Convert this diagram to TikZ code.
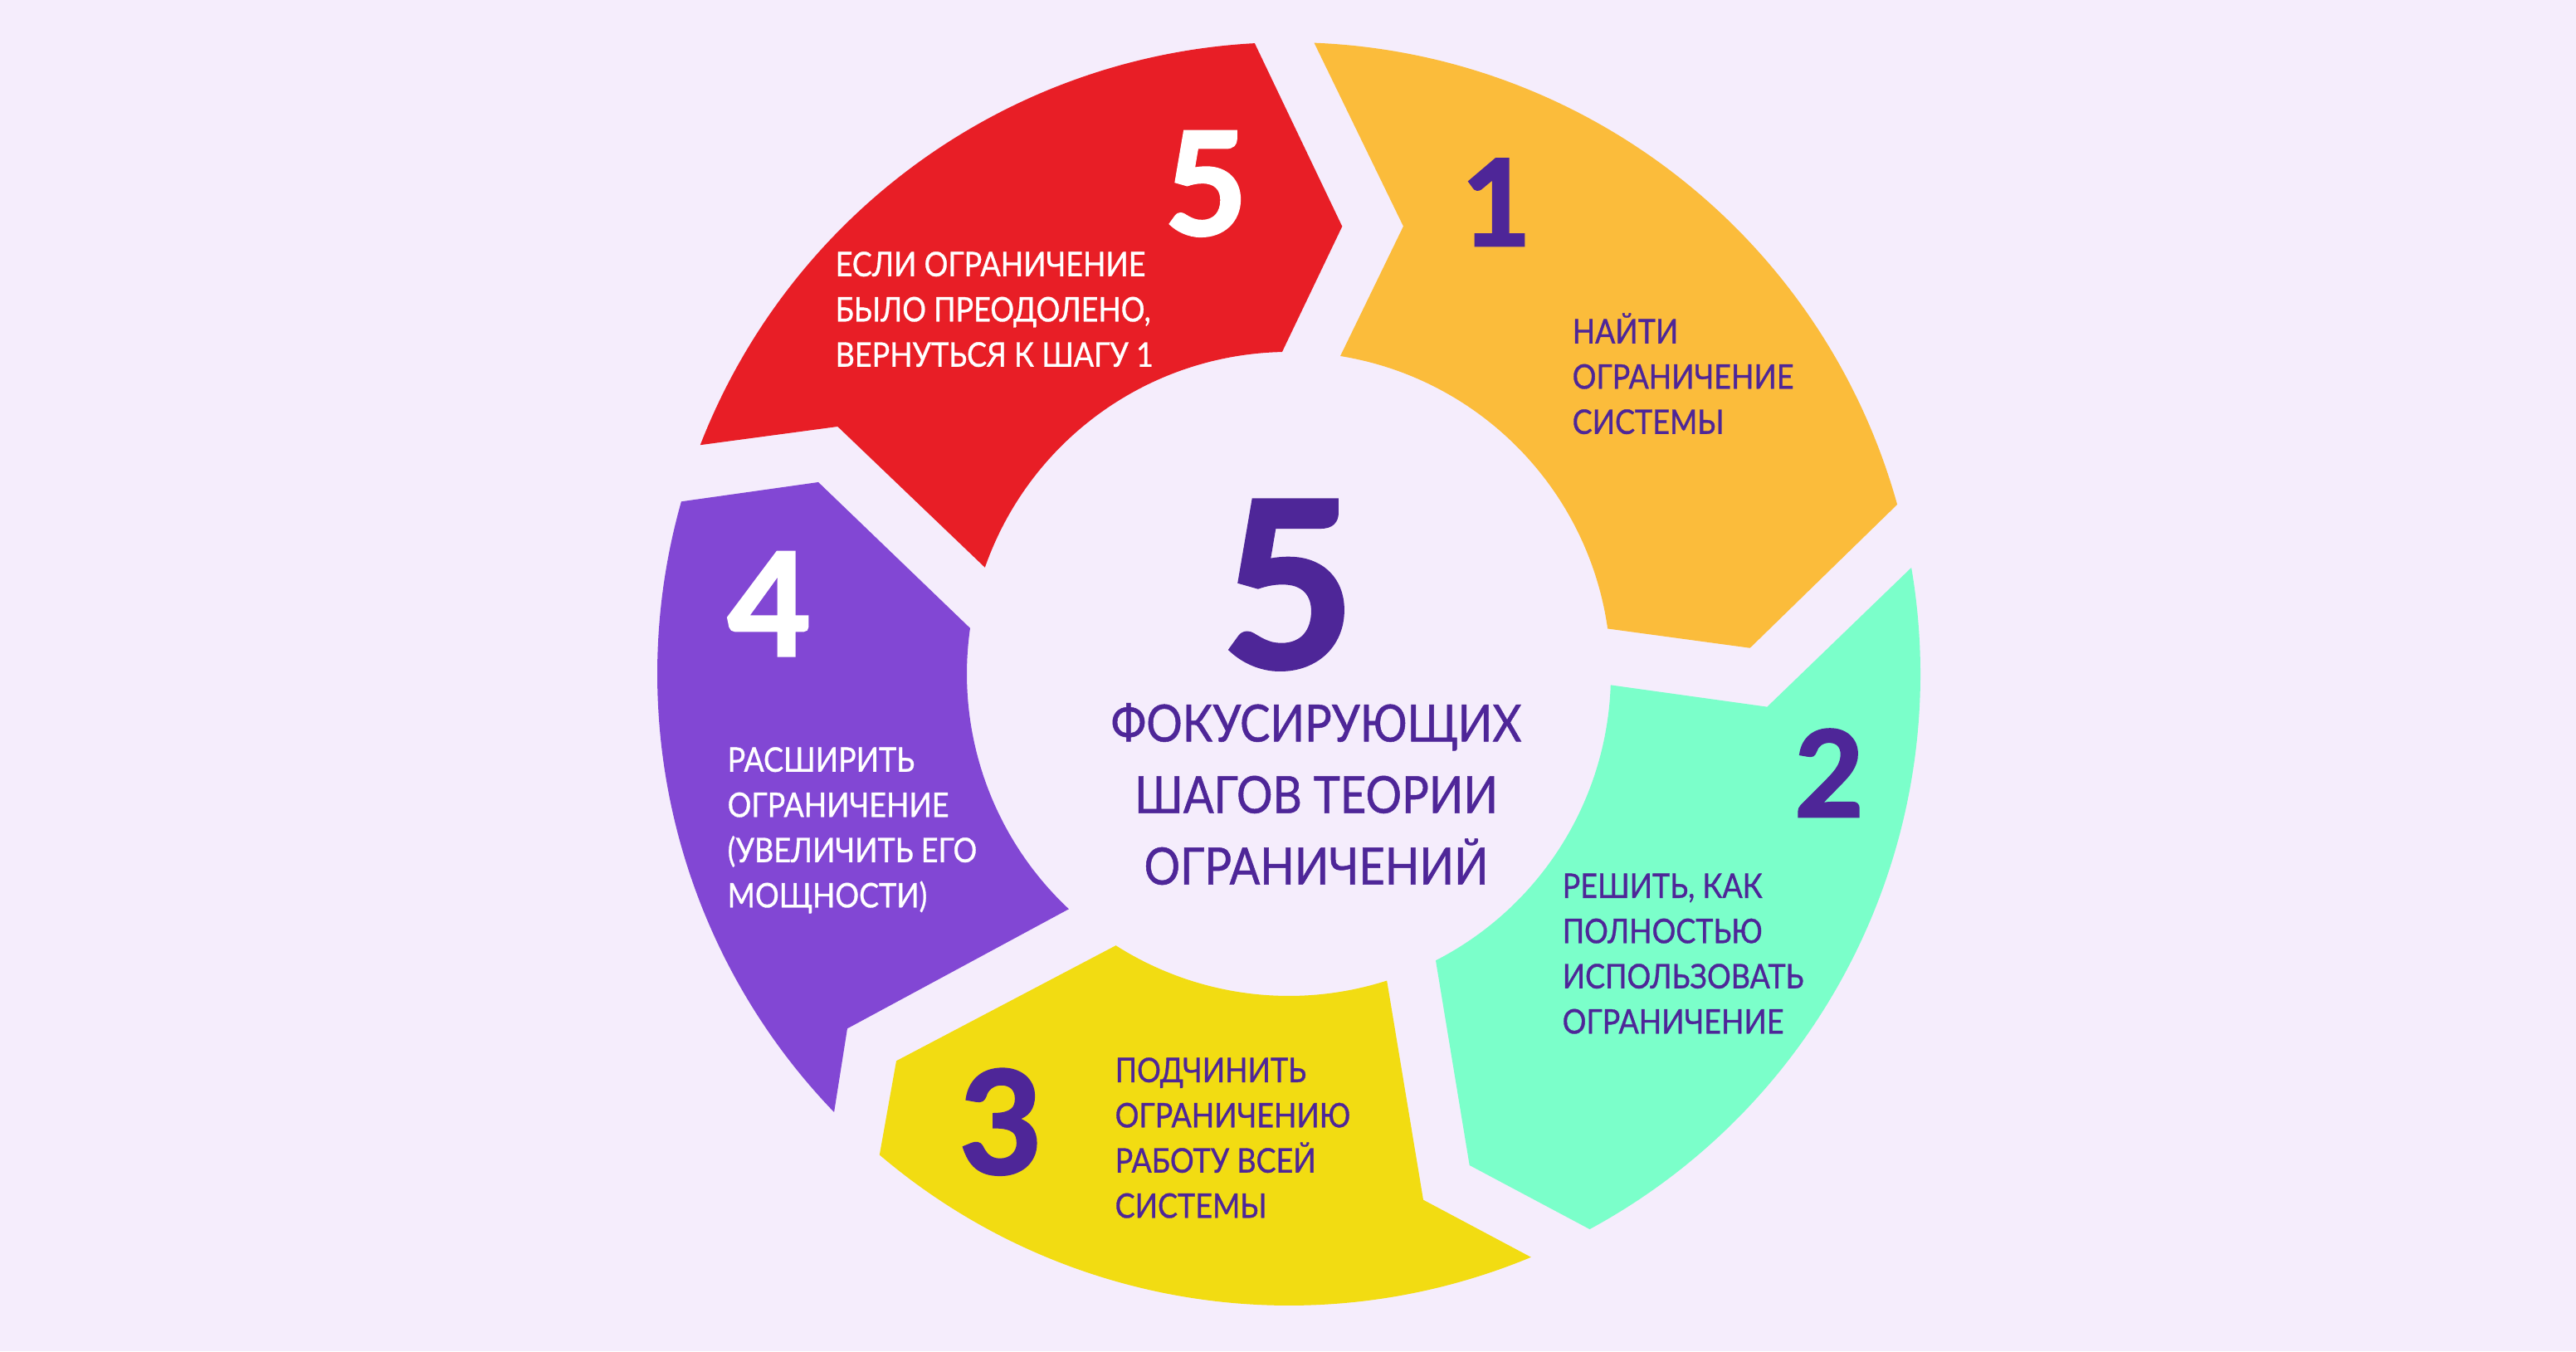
\documentclass[tikz,border=0pt]{standalone}
\usepackage{fontspec}
\setmainfont{Lato}
\newfontfamily\capfont{Lato}[FakeStretch=0.88,FakeBold=0.8]
\newfontfamily\numfont{Lato}[BoldFont={* Bold},BoldFeatures={FakeBold=2}]
\usepackage{tikz}
\usepackage{xcolor}

\definecolor{bgcol}{HTML}{F5EDFC}
\definecolor{redseg}{HTML}{E81E26}
\definecolor{orangeseg}{HTML}{FBBC3B}
\definecolor{mintseg}{HTML}{7BFFCA}
\definecolor{yellowseg}{HTML}{F2DC12}
\definecolor{violetseg}{HTML}{8247D4}
\definecolor{ink}{HTML}{4E2698}

\begin{document}
\begin{tikzpicture}
        \tikzstyle{caption}=[anchor=north west,inner sep=0pt,align=left,font=\capfont\fontsize{11.6}{15.5}\selectfont]
        \tikzstyle{bignum}=[anchor=base,inner sep=0pt,font=\numfont\bfseries\fontsize{49}{49}\selectfont]
        \tikzstyle{midnum}=[anchor=base,inner sep=0pt,font=\numfont\bfseries\fontsize{41}{41}\selectfont]

        \fill[bgcol] (0,0) rectangle (31.04,16.28);

        \begin{scope}[shift={(15.53,8.16)}]
            % step 5
            \fill[redseg] (93.1:7.61) arc[start angle=93.1,end angle=158.75,radius=7.61] -- (151.27:6.20)
                -- (160.7:3.88) arc[start angle=160.7,end angle=91.2,radius=3.88] -- (83.2:5.43) -- cycle;
            % step 1
            \fill[orangeseg] (15.56:7.61) arc[start angle=15.56,end angle=87.7,radius=7.61] -- (75.65:5.567)
                -- (80.8:3.88) arc[start angle=80.8,end angle=8.08,radius=3.88] -- (3.22:5.566) -- cycle;
            % step 2
            \fill[mintseg] (-61.55:7.61) arc[start angle=-61.55,end angle=9.69,radius=7.61] -- (-3.94:5.777)
                -- (-1.98:3.88) arc[start angle=-1.98,end angle=-62.86,radius=3.88] -- (-69.81:6.308) -- cycle;
            % step 3
            \fill[yellowseg] (-130.4:7.61) arc[start angle=-130.4,end angle=-67.45,radius=7.61] -- (-75.66:6.541)
                -- (-72.27:3.88) arc[start angle=-72.27,end angle=-122.5,radius=3.88] -- (-135.41:6.642) -- cycle;
            % step 4
            \fill[violetseg] (164.16:7.61) arc[start angle=164.16,end angle=223.94,radius=7.61] -- (218.77:6.824)
                -- (226.9:3.88) arc[start angle=226.9,end angle=171.83,radius=3.88] -- (157.83:6.122) -- cycle;
        \end{scope}

        \node[anchor=base,inner sep=0pt,text=ink,font=\numfont\bfseries\fontsize{79}{79}\selectfont] (five) at (15.52,8.24) {5};
        \node[anchor=north,inner sep=0pt,align=center,text=ink,font=\capfont\fontsize{17.6}{24.5}\selectfont] (title) at (15.86,7.955) {
            \strut ФОКУСИРУЮЩИХ\\ШАГОВ ТЕОРИИ\\ОГРАНИЧЕНИЙ};

        \node[bignum,text=white] (n5) at (14.53,13.45) {5};
        \node[midnum,text=ink] (n1) at (18.03,13.32) {1};
        \node[midnum,text=ink] (n2) at (22.04,6.44) {2};
        \node[bignum,text=ink] (n3) at (12.06,2.14) {3};
        \node[bignum,text=white] (n4) at (9.27,8.38) {4};

        \node[caption,text=white] (t5) at (10.06,13.34) {\strut ЕСЛИ ОГРАНИЧЕНИЕ\\БЫЛО ПРЕОДОЛЕНО,\\ВЕРНУТЬСЯ К ШАГУ 1};
        \node[caption,text=ink] (t1) at (18.94,12.53) {\strut НАЙТИ\\ОГРАНИЧЕНИЕ\\СИСТЕМЫ};
        \node[caption,text=ink] (t2) at (18.82,5.85) {\strut РЕШИТЬ, КАК\\ПОЛНОСТЬЮ\\ИСПОЛЬЗОВАТЬ\\ОГРАНИЧЕНИЕ};
        \node[caption,text=ink] (t3) at (13.43,3.63) {\strut ПОДЧИНИТЬ\\ОГРАНИЧЕНИЮ\\РАБОТУ ВСЕЙ\\СИСТЕМЫ};
        \node[caption,text=white] (t4) at (8.76,7.37) {\strut РАСШИРИТЬ\\ОГРАНИЧЕНИЕ\\(УВЕЛИЧИТЬ ЕГО\\МОЩНОСТИ)};

\end{tikzpicture}
\end{document}
